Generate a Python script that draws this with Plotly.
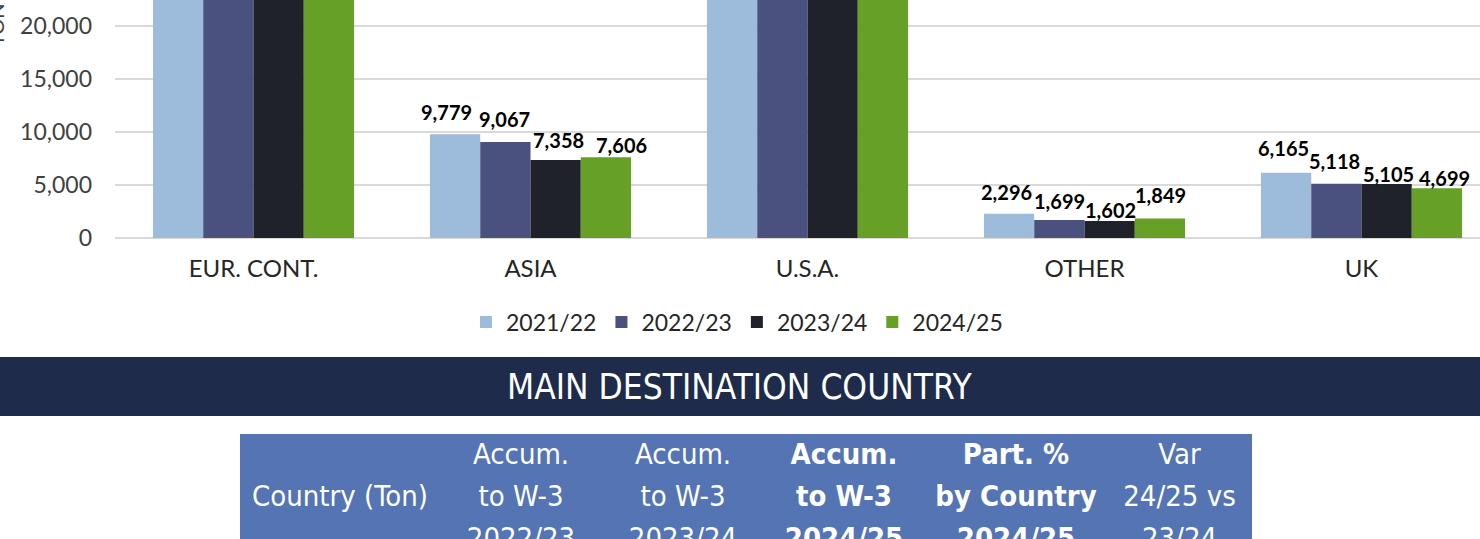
import plotly.graph_objects as go

# ---------------- data ----------------
categories = ["EUR. CONT.", "ASIA", "U.S.A.", "OTHER", "UK"]
seasons = ["2021/22", "2022/23", "2023/24", "2024/25"]
# EUR. CONT. and U.S.A. bars run above the visible area (values estimated)
v_2021_22 = [36500, 9779, 41000, 2296, 6165]
v_2022_23 = [34800, 9067, 38500, 1699, 5118]
v_2023_24 = [33200, 7358, 36000, 1602, 5105]
v_2024_25 = [31800, 7606, 34200, 1849, 4699]
series_values = [v_2021_22, v_2022_23, v_2023_24, v_2024_25]

y_ticks = [0, 5000, 10000, 15000, 20000]

# table header, one list per text line (non-breaking spaces keep each line whole)
NB = "\u00a0"
header_line1 = ["", "Accum.", "Accum.", "Accum.", f"Part.{NB}%", "Var"]
header_line2 = [f"Country{NB}(Ton)", f"to{NB}W-3", f"to{NB}W-3", f"to{NB}W-3",
                f"by{NB}Country", f"24/25{NB}vs"]
header_line3 = ["", "2022/23", "2023/24", "2024/25", "2024/25", "23/24"]
header_bold = [False, False, False, True, True, False]
banner_title = "MAIN DESTINATION COUNTRY"
y_title = "TON"

# ---------------- styling ----------------
colors = ["#9DBBDA", "#4A517E", "#1F222B", "#66A026"]
W, H = 1480, 700
ML = 115
PW = W - ML
cat_px = 277.0
bar_bottom_px = 238
y_max = 22450
narrow = "DejaVu Sans Condensed, Roboto Condensed, Liberation Sans Narrow, Roboto"
table_blue = "#5574B4"

def px_x(p):
    return (p - ML) / PW

def px_y(p):
    return 1 - p / H

# label tweaks (pixel offsets) per series per category: (dx, gap above bar)
label_dx = [[0, -9, 0, -3, -3], [0, -1, 0, 0, -2], [0, 3, 0, 1, 2], [0, 16, 0, 1, 8]]
label_gap = [[0, 16, 0, 16, 19], [0, 17, 0, 13, 17], [0, 14, 0, 5, 4], [0, 6, 0, 17, 4]]
bar_px = 50.3

fig = go.Figure()
for i, (name, vals) in enumerate(zip(seasons, series_values)):
    fig.add_trace(go.Bar(
        x=categories, y=vals, name=name,
        marker=dict(color=colors[i], line=dict(width=0)),
        cliponaxis=True,
    ))

annotations = []
for i, vals in enumerate(series_values):
    for j, v in enumerate(vals):
        if v >= y_max:
            continue
        annotations.append(dict(
            x=categories[j], y=v, xref="x", yref="y",
            text=f"{v:,}", showarrow=False,
            xanchor="center", yanchor="bottom",
            xshift=(i - 1.5) * bar_px + label_dx[i][j],
            yshift=label_gap[i][j] - 8,
            font=dict(family="Lato", size=20, color="#000000", weight=700),
        ))

# banner title
annotations.append(dict(
    x=px_x(740), y=px_y(387), xref="paper", yref="paper",
    text=banner_title, showarrow=False, xanchor="center", yanchor="middle",
    font=dict(family=narrow, size=35, color="#FFFFFF"),
))
# y-axis title (mostly cut off at top-left)
annotations.append(dict(
    x=px_x(-4), y=px_y(25), xref="paper", yref="paper",
    text=y_title, showarrow=False, textangle=-90,
    xanchor="center", yanchor="middle",
    font=dict(family="Lato", size=20, color="#404040"),
))

weights = [700 if b else 400 for b in header_bold]
table_font = dict(family=narrow, size=29, color="#FFFFFF", weight=weights)

fig.add_trace(go.Table(
    domain=dict(x=[px_x(240), px_x(1251)], y=[0, px_y(434)]),
    columnwidth=[200, 162, 162, 160, 184, 143],
    header=dict(
        values=header_line1,
        fill_color=table_blue,
        line=dict(color=table_blue, width=1),
        align="center",
        font=table_font,
        height=42,
    ),
    cells=dict(
        values=[[a, b] for a, b in zip(header_line2, header_line3)],
        fill_color=table_blue,
        line=dict(color=table_blue, width=1),
        align="center",
        font=table_font,
        height=42,
    ),
))

fig.update_layout(
    width=W, height=H,
    margin=dict(l=ML, r=0, t=0, b=0, autoexpand=False),
    paper_bgcolor="white", plot_bgcolor="white",
    barmode="group", bargap=0.274, bargroupgap=0,
    showlegend=True,
    legend=dict(
        orientation="h", x=px_x(737), y=px_y(322),
        xanchor="center", yanchor="middle",
        font=dict(family="Lato", size=23, color="#262626"),
        itemwidth=30, traceorder="normal",
    ),
    annotations=annotations,
    shapes=[dict(
        type="rect", xref="paper", yref="paper",
        x0=px_x(-5), x1=px_x(1490), y0=px_y(416), y1=px_y(357),
        fillcolor="#1E2B4A", line=dict(width=0), layer="below",
    )],
    xaxis=dict(
        domain=[0, 1], range=[-0.5, -0.5 + PW / cat_px],
        showgrid=False, showline=False, ticks="", automargin=False,
        tickfont=dict(family="Lato", size=24, color="#262626"),
        ticklabelstandoff=14,
    ),
    yaxis=dict(
        domain=[px_y(bar_bottom_px), 1], range=[0, y_max],
        tickvals=y_ticks, tickformat=",", automargin=False,
        showgrid=True, gridcolor="#D9D9D9", gridwidth=1.5,
        zeroline=True, zerolinecolor="#D9D9D9", zerolinewidth=1.5,
        showline=False, ticks="",
        tickfont=dict(family="Lato", size=23, color="#404040"),
        ticklabelstandoff=22,
    ),
)

fig.write_html(
    "out.html",
    config={"displayModeBar": False},
    post_script="document.body.style.margin='0';",
)
